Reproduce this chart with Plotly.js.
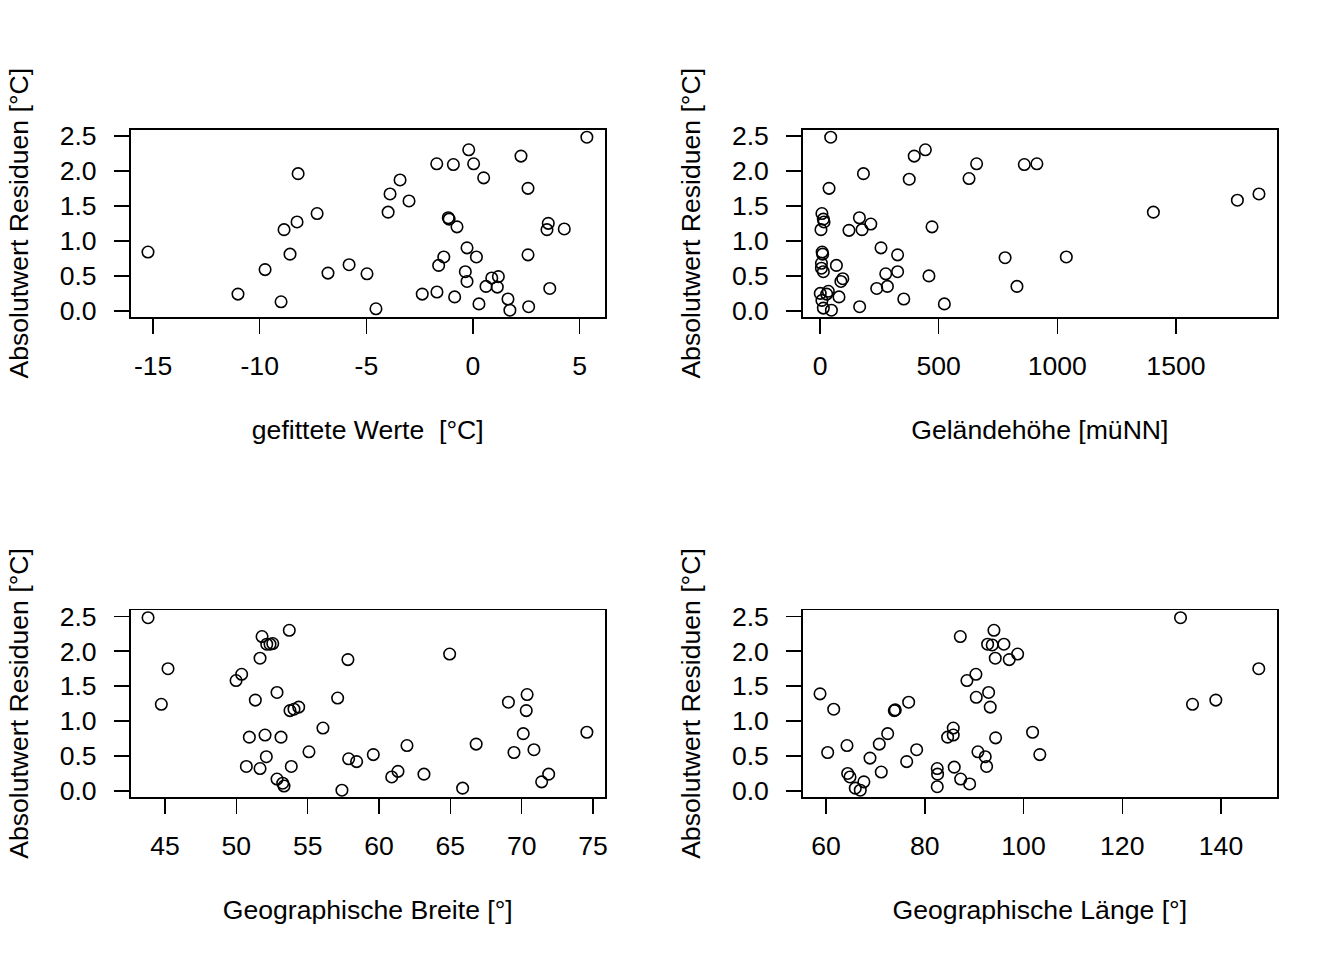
<!DOCTYPE html>
<html>
<head>
<meta charset="utf-8">
<script src="https://cdn.plot.ly/plotly-3.0.1.min.js"></script>
<style>html,body{margin:0;padding:0;background:#fff;}#chart{width:1344px;height:960px;}</style>
</head>
<body>
<div id="chart"></div>
<script>
// Panel 1: fitted values vs |residuals|
const fittedValues = [-15.24,-11.02,-9.75,-9.0,-8.86,-8.58,-8.25,-8.2,-7.31,-6.80,-5.81,-4.97,-4.55,-3.98,-3.89,-3.42,-3.0,-1.70,-0.92,-0.20,0.03,0.50,2.25,2.58,5.34,-1.16,-1.12,-0.75,3.53,3.47,4.28,-0.28,0.16,-1.37,-1.61,2.58,-0.36,-0.28,0.88,1.19,0.61,1.14,3.60,-2.38,-1.69,-0.86,0.28,1.64,1.73,2.61];
const residFitted = [0.84,0.24,0.59,0.13,1.16,0.81,1.27,1.96,1.39,0.54,0.66,0.53,0.03,1.41,1.67,1.87,1.57,2.10,2.09,2.30,2.10,1.90,2.21,1.75,2.48,1.33,1.31,1.20,1.25,1.16,1.17,0.90,0.77,0.77,0.65,0.80,0.56,0.42,0.47,0.49,0.35,0.34,0.32,0.24,0.27,0.20,0.10,0.17,0.01,0.06];

// Panel 2: elevation vs |residuals|
const elevation = [45,444,397,660,861,914,183,376,628,38,8,14,17,4,166,214,122,177,472,9,11,257,327,780,6,6,14,69,96,88,277,327,459,239,284,830,1,35,28,80,8,353,14,48,167,524,1038,1405,1759,1850];
const residElevation = [2.48,2.30,2.21,2.10,2.09,2.10,1.96,1.88,1.89,1.75,1.39,1.31,1.27,1.16,1.33,1.24,1.15,1.16,1.20,0.84,0.81,0.90,0.80,0.76,0.68,0.61,0.56,0.65,0.46,0.42,0.53,0.56,0.50,0.32,0.35,0.35,0.25,0.28,0.24,0.20,0.15,0.17,0.04,0.01,0.06,0.10,0.77,1.41,1.58,1.67];

// Panel 3: latitude vs |residuals|
const latitude = [43.81,45.21,44.74,51.80,53.71,52.13,52.36,52.55,51.66,57.82,50.37,49.98,52.85,51.33,57.10,53.76,54.04,54.37,56.07,50.91,52.01,53.13,55.09,52.10,50.70,51.66,53.85,57.87,58.43,52.85,53.25,53.34,57.40,59.60,61.96,61.33,60.89,63.15,64.95,66.81,65.86,69.07,70.38,70.32,70.11,69.46,70.86,71.89,71.40,74.57];
const residLatitude = [2.48,1.75,1.24,2.21,2.30,2.10,2.10,2.11,1.90,1.88,1.67,1.58,1.41,1.30,1.33,1.15,1.17,1.20,0.90,0.77,0.80,0.77,0.56,0.49,0.35,0.32,0.35,0.46,0.42,0.17,0.11,0.07,0.01,0.52,0.65,0.28,0.20,0.24,1.96,0.67,0.04,1.27,1.38,1.15,0.82,0.55,0.59,0.24,0.13,0.84];

// Panel 4: longitude vs |residuals|
const longitude = [58.79,61.56,60.34,64.25,64.39,64.86,67.67,65.93,66.94,68.91,71.19,70.79,72.49,73.83,74.03,76.74,76.34,78.36,82.53,82.6,82.53,87.2,84.63,85.77,85.77,85.97,87.27,89.09,88.54,90.36,90.43,92.93,93.26,90.77,92.25,92.53,94.35,94.01,92.73,93.66,96.03,94.28,97.11,98.81,101.84,103.3,131.8,147.65,134.23,138.95];
const residLongitude = [1.39,1.17,0.55,0.65,0.25,0.20,0.13,0.04,0.01,0.47,0.27,0.67,0.82,1.15,1.16,1.27,0.42,0.59,0.32,0.24,0.06,2.21,0.77,0.90,0.80,0.34,0.17,0.10,1.58,1.67,1.34,1.41,1.20,0.56,0.49,0.35,0.76,2.30,2.10,2.09,2.10,1.90,1.88,1.96,0.84,0.52,2.48,1.75,1.24,1.30];

// Tick labels
const yTickVals = [0, 0.5, 1, 1.5, 2, 2.5];
const yTickText = ["0.0", "0.5", "1.0", "1.5", "2.0", "2.5"];
const fittedTickVals = [-15, -10, -5, 0, 5];
const fittedTickText = ["-15", "-10", "-5", "0", "5"];
const elevTickVals = [0, 500, 1000, 1500];
const latTickVals = [45, 50, 55, 60, 65, 70, 75];
const lonTickVals = [60, 80, 100, 120, 140];

const yTitle = "Absolutwert Residuen [°C]";
const xTitles = ["gefittete Werte \u00a0[°C]", "Geländehöhe [müNN]", "Geographische Breite [°]", "Geographische Länge [°]"];

const FONT = "Liberation Sans, Arial, Helvetica, sans-serif";
const FS = 26.6;

function trace(x, y, xa, ya) {
  return {
    x: x, y: y, xaxis: xa, yaxis: ya, type: "scatter", mode: "markers",
    marker: {symbol: "circle-open", size: 11.5, color: "#000", line: {width: 1.6, color: "#000"}},
    hoverinfo: "x+y", showlegend: false
  };
}

const data = [
  trace(fittedValues, residFitted, "x", "y"),
  trace(elevation, residElevation, "x2", "y2"),
  trace(latitude, residLatitude, "x3", "y3"),
  trace(longitude, residLongitude, "x4", "y4")
];

function xaxis(domain, range, vals, text, title, anchor) {
  return {
    domain: domain, range: range, anchor: anchor,
    tickvals: vals, ticktext: text || vals.map(String),
    ticks: "outside", ticklen: 15, tickwidth: 1.5, tickcolor: "#000",
    showline: true, mirror: true, linecolor: "#000", linewidth: 1.5,
    showgrid: false, zeroline: false,
    tickfont: {family: FONT, size: FS, color: "#000"},
    ticklabelstandoff: 10,
    title: {text: title, font: {family: FONT, size: FS, color: "#000"}, standoff: 40},
    automargin: false, fixedrange: true
  };
}
function yaxis(domain, anchor) {
  return {
    domain: domain, range: [-0.087, 2.59], anchor: anchor,
    tickvals: yTickVals, ticktext: yTickText,
    ticks: "outside", ticklen: 15, tickwidth: 1.5, tickcolor: "#000",
    showline: true, mirror: true, linecolor: "#000", linewidth: 1.5,
    showgrid: false, zeroline: false,
    tickfont: {family: FONT, size: FS, color: "#000"},
    ticklabelstandoff: 12,
    title: {text: yTitle, font: {family: FONT, size: FS, color: "#000"}, standoff: 23},
    automargin: false, fixedrange: true
  };
}

const colL = [130.5/1344, 605/1344];
const colR = [802.7/1344, 1277/1344];
const rowT = [1 - 317/960, 1 - 129.5/960];
const rowB = [1 - 797/960, 1 - 610/960];

const layout = {
  width: 1344, height: 960,
  margin: {l: 0, r: 0, t: 0, b: 0},
  paper_bgcolor: "#fff", plot_bgcolor: "#fff",
  font: {family: FONT, size: FS, color: "#000"},
  showlegend: false,
  xaxis: xaxis(colL, [-16.06, 6.19], fittedTickVals, fittedTickText, xTitles[0], "y"),
  yaxis: yaxis(rowT, "x"),
  xaxis2: xaxis(colR, [-73, 1926], elevTickVals, null, xTitles[1], "y2"),
  yaxis2: yaxis(rowT, "x2"),
  xaxis3: xaxis(colL, [42.58, 75.84], latTickVals, null, xTitles[2], "y3"),
  yaxis3: yaxis(rowB, "x3"),
  xaxis4: xaxis(colR, [55.28, 151.34], lonTickVals, null, xTitles[3], "y4"),
  yaxis4: yaxis(rowB, "x4")
};

Plotly.newPlot("chart", data, layout, {staticPlot: true, displayModeBar: false});
</script>
</body>
</html>
